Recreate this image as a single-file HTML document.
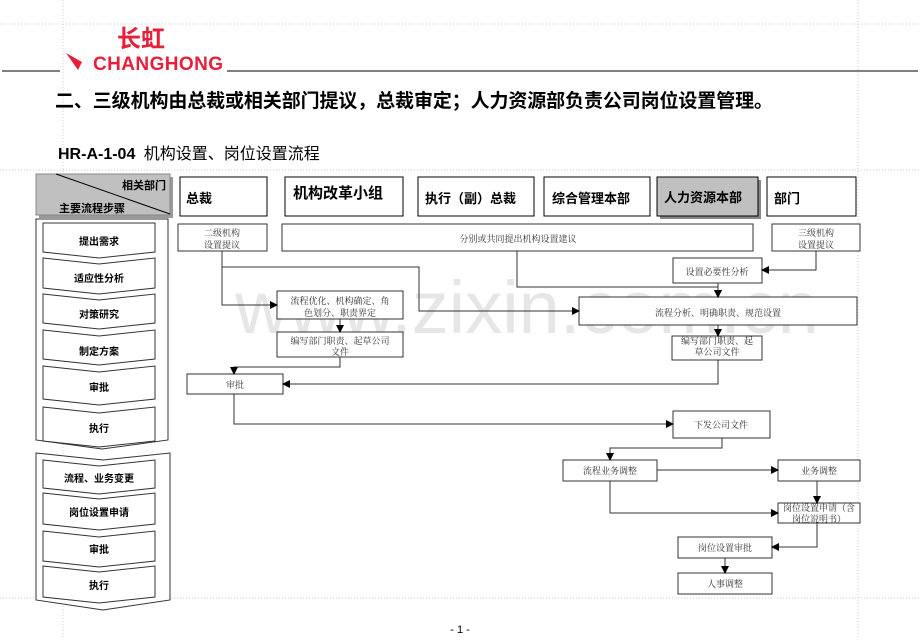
<!DOCTYPE html>
<html><head><meta charset="utf-8"><style>
body{margin:0;background:#fff;}
svg text{font-family:"Liberation Sans","Noto Sans CJK SC",sans-serif;}
.s{font-family:"Noto Serif CJK SC","Liberation Serif",serif !important;}
</style></head><body>
<svg width="920" height="637" viewBox="0 0 920 637" xmlns="http://www.w3.org/2000/svg">
<defs><marker id="a" markerWidth="8" markerHeight="8" refX="7" refY="4" orient="auto" markerUnits="userSpaceOnUse"><path d="M0,0 L8,4 L0,8 z" fill="#000"/></marker></defs>
<!-- dotted guides -->
<g stroke="#ccc" stroke-dasharray="1,2" stroke-width="1" fill="none">
<line x1="63" y1="0" x2="63" y2="637"/><line x1="858" y1="0" x2="858" y2="637"/>
<line x1="0" y1="24" x2="920" y2="24"/><line x1="0" y1="170" x2="920" y2="170"/><line x1="0" y1="598" x2="920" y2="598"/>
</g>
<!-- watermark -->
<text x="235" y="333" font-size="74" fill="#e6e6e6" font-family="Liberation Sans">www.zixin.com.cn</text>
<!-- logo -->
<text x="117" y="47" font-size="24" font-weight="bold" fill="#e5203a" font-family="Noto Sans CJK SC">长虹</text>
<text x="93" y="70" font-size="19" font-weight="bold" fill="#e5203a" font-family="Liberation Sans" textLength="130">CHANGHONG</text>
<path d="M66,53 L82,62 L78,70 z" fill="#e5203a"/>
<line x1="2" y1="71" x2="60" y2="71" stroke="#000"/><line x1="227" y1="71" x2="918" y2="71" stroke="#000"/>
<text x="55" y="107" font-size="19" font-weight="bold" textLength="718">二、三级机构由总裁或相关部门提议，总裁审定；人力资源部负责公司岗位设置管理。</text>
<text x="58" y="159" font-size="16" font-weight="bold">HR-A-1-04 <tspan font-weight="normal" dx="4">机构设置、岗位设置流程</tspan></text>
<!-- header -->
<rect x="39" y="177" width="134" height="41" fill="#999"/>
<rect x="36" y="174" width="134" height="41" fill="#c0c0c0" stroke="#888"/>
<line x1="56" y1="174" x2="170" y2="214" stroke="#000"/>
<text x="122" y="189" font-size="11" font-weight="bold">相关部门</text>
<text x="59" y="212" font-size="11" font-weight="bold">主要流程步骤</text>
<g fill="#fff" stroke="#000" stroke-width="1">
<rect x="180" y="177" width="87" height="39"/>
<rect x="285" y="177" width="118" height="39"/>
<rect x="418" y="177" width="116" height="39"/>
<rect x="544" y="177" width="106" height="39"/>
<rect x="660" y="180" width="101" height="39" fill="#888" stroke="none"/>
<rect x="657" y="177" width="101" height="39" fill="#c0c0c0"/>
<rect x="767" y="177" width="89" height="39"/>
</g>
<g font-size="13" font-weight="bold">
<text x="186" y="203">总裁</text><text x="293" y="198" font-size="15">机构改革小组</text>
<text x="425" y="203">执行（副）总裁</text><text x="552" y="203">综合管理本部</text>
<text x="664" y="202">人力资源本部</text><text x="774" y="203">部门</text>
</g>
<!-- left chevrons -->
<g fill="#fff" stroke="#333" stroke-width="1">
<path d="M36,219 L168,219 L168,440 L102,449 L36,440 z"/>
<path d="M36,453 L103,460 L170,453 L170,600 L103,610 L36,600 z"/>
<path d="M43,223 L155,223 L155,252 L99,258 L43,252 z"/>
<path d="M43,258 L99,264 L155,258 L155,288 L99,294 L43,288 z"/>
<path d="M43,294 L99,300 L155,294 L155,323 L99,329 L43,323 z"/>
<path d="M43,330 L99,336 L155,330 L155,359 L99,365 L43,359 z"/>
<path d="M43,366 L99,372 L155,366 L155,399 L99,405 L43,399 z"/>
<path d="M43,407 L99,413 L155,407 L155,441 L99,447 L43,441 z"/>
<path d="M43,460 L99,466 L155,460 L155,488 L99,494 L43,488 z"/>
<path d="M43,493 L99,499 L155,493 L155,524 L99,530 L43,524 z"/>
<path d="M43,531 L99,537 L155,531 L155,561 L99,567 L43,561 z"/>
<path d="M43,566 L99,572 L155,566 L155,597 L99,603 L43,597 z"/>
</g>
<g font-size="10" font-weight="bold" text-anchor="middle">
<text x="99" y="245">提出需求</text><text x="99" y="282">适应性分析</text><text x="99" y="318">对策研究</text>
<text x="99" y="355">制定方案</text><text x="99" y="391">审批</text><text x="99" y="432">执行</text>
<text x="99" y="482">流程、业务变更</text><text x="99" y="516">岗位设置申请</text><text x="99" y="553">审批</text><text x="99" y="589">执行</text>
</g>
<!-- flow boxes -->
<g fill="#fff" stroke="#333" stroke-width="1">
<rect x="178" y="224" width="89" height="27"/>
<rect x="282" y="224" width="471" height="27"/>
<rect x="772" y="224" width="88" height="27"/>
<rect x="673" y="258" width="89" height="25"/>
<rect x="277" y="291" width="126" height="28"/>
<rect x="579" y="297" width="278" height="28"/>
<rect x="277" y="332" width="126" height="25"/>
<rect x="672" y="336" width="90" height="24"/>
<rect x="187" y="374" width="96" height="20"/>
<rect x="673" y="411" width="97" height="27"/>
<rect x="563" y="460" width="94" height="21"/>
<rect x="778" y="460" width="82" height="21"/>
<rect x="778" y="503" width="82" height="20"/>
<rect x="678" y="537" width="94" height="21"/>
<rect x="678" y="573" width="94" height="21"/>
</g>
<g class="s" font-size="9" text-anchor="middle" fill="#333">
<text class="s" x="222" y="236">二级机构</text><text class="s" x="222" y="248">设置提议</text>
<text class="s" x="518" y="242">分别或共同提出机构设置建议</text>
<text class="s" x="816" y="236">三级机构</text><text class="s" x="816" y="248">设置提议</text>
<text class="s" x="717" y="275">设置必要性分析</text>
<text class="s" x="340" y="304">流程优化、机构确定、角</text><text class="s" x="340" y="316">色划分、职责界定</text>
<text class="s" x="718" y="316">流程分析、明确职责、规范设置</text>
<text class="s" x="340" y="344">编写部门职责、起草公司</text><text class="s" x="340" y="355">文件</text>
<text class="s" x="717" y="344">编写部门职责、起</text><text class="s" x="717" y="355">草公司文件</text>
<text class="s" x="235" y="388">审批</text>
<text class="s" x="721" y="428">下发公司文件</text>
<text class="s" x="610" y="474">流程业务调整</text>
<text class="s" x="819" y="474">业务调整</text>
<text class="s" x="819" y="511">岗位设置申请（含</text><text class="s" x="819" y="522">岗位说明书）</text>
<text class="s" x="725" y="551">岗位设置审批</text>
<text class="s" x="725" y="587">人事调整</text>
</g>
<!-- connectors -->
<g stroke="#333" stroke-width="1" fill="none" marker-end="url(#a)">
<path d="M222,251 V305 H277"/>
<path d="M222,267 H419 V311 H579"/>
<path d="M517,251 V287 H718 V297"/>
<path d="M718,283 V297"/>
<path d="M816,251 V270 H762"/>
<path d="M340,319 V332"/>
<path d="M340,357 V367 H234 V374"/>
<path d="M718,325 V336"/>
<path d="M718,360 V384 H283"/>
<path d="M234,394 V424 H673"/>
<path d="M722,438 V448 H610 V460"/>
<path d="M657,470 H778"/>
<path d="M610,481 V513 H778"/>
<path d="M817,481 V503"/>
<path d="M817,523 V547 H772"/>
<path d="M725,558 V573"/>
</g>
<text x="460" y="633" font-size="11" text-anchor="middle">- 1 -</text>
</svg>
</body></html>
